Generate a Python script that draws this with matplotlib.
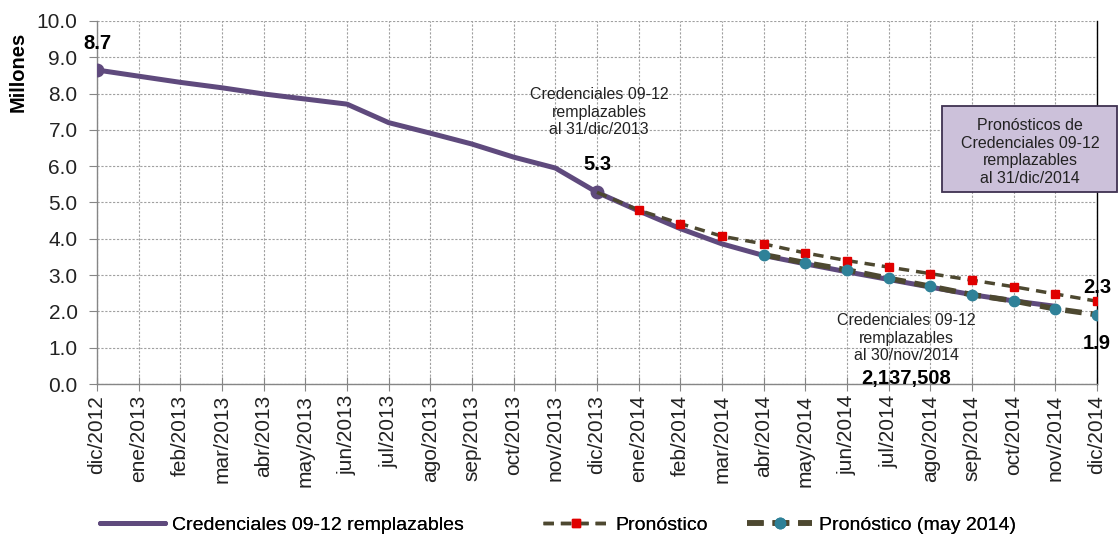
import matplotlib
matplotlib.use("Agg")
import matplotlib.pyplot as plt
from matplotlib.lines import Line2D
from matplotlib.patches import Rectangle

plt.rcParams["font.family"] = ["Liberation Sans", "DejaVu Sans"]

# month labels, dic/2012 .. dic/2014
months = ["dic/2012", "ene/2013", "feb/2013", "mar/2013", "abr/2013", "may/2013",
          "jun/2013", "jul/2013", "ago/2013", "sep/2013", "oct/2013", "nov/2013",
          "dic/2013", "ene/2014", "feb/2014", "mar/2014", "abr/2014", "may/2014",
          "jun/2014", "jul/2014", "ago/2014", "sep/2014", "oct/2014", "nov/2014",
          "dic/2014"]

# actual replaceable credentials (millions), dic/2012 .. nov/2014
actual = [8.65, 8.48, 8.31, 8.16, 7.99, 7.85, 7.71, 7.20, 6.91, 6.61, 6.25, 5.95,
          5.28, 4.77, 4.28, 3.86, 3.54, 3.31, 3.09, 2.88, 2.67, 2.46, 2.29, 2.14]

# forecast, dic/2013 .. dic/2014
forecast = [5.28, 4.79, 4.42, 4.07, 3.86, 3.61, 3.40, 3.22, 3.04, 2.86, 2.68, 2.48, 2.28]

# forecast (may 2014), abr/2014 .. dic/2014
forecast_may = [3.56, 3.34, 3.14, 2.91, 2.69, 2.46, 2.29, 2.07, 1.91]

PURPLE = "#5f4a7d"
OLIVE = "#4d4830"
RED = "#e00000"
TEAL = "#2f8198"
GRID = "#a0a0a0"
W, H = 1118, 537

fig = plt.figure(figsize=(W / 100, H / 100), dpi=100)
ax = fig.add_axes([97 / W, 1 - 384 / H, 1000 / W, (384 - 21) / H])

x_act = list(range(len(actual)))
x_fc = list(range(12, 12 + len(forecast)))
x_may = list(range(16, 16 + len(forecast_may)))

ax.plot(x_act, actual, color=PURPLE, lw=3.6, marker="o", ms=9,
        markevery=[0, 12], solid_capstyle="round", zorder=3)
ax.plot(x_fc, forecast, color=OLIVE, lw=2.5, dashes=(3, 2), marker="s", ms=6,
        mfc=RED, mec=RED, markevery=list(range(1, len(forecast))), zorder=4)
ax.plot(x_may, forecast_may, color=OLIVE, lw=4.0, dashes=(3, 1.6), marker="o", ms=7.5,
        mfc=TEAL, mec=TEAL, zorder=5)

ax.set_xlim(0, 24)
ax.set_ylim(0, 10)
ax.set_xticks(range(len(months)))
ax.set_xticklabels(months, rotation=90, fontsize=15, color="#222222")
ax.set_yticks(range(11))
ax.set_yticklabels([f"{i:.1f}" for i in range(11)], fontsize=15, color="#222222")

ax.grid(True, color=GRID, linestyle=(0, (2, 1.5)), lw=0.8)
ax.set_axisbelow(True)
ax.tick_params(axis="x", direction="inout", length=10, color="#868686", pad=3)
ax.tick_params(axis="y", direction="out", length=6, color="#868686", pad=8)
for side in ["left", "bottom"]:
    ax.spines[side].set_color("#868686")
    ax.spines[side].set_linewidth(1.0)
ax.spines["top"].set_visible(False)
ax.spines["right"].set_color("black")
ax.spines["right"].set_linewidth(1.0)

fig.text(18 / W, 1 - 72 / H, "Millones", rotation=90, fontsize=14.5,
         fontweight="bold", ha="center", va="center")

# annotations
ax.text(0, 9.37, "8.7", fontsize=14.5, fontweight="bold", ha="center", va="center")
ax.text(12.05, 7.49, "Credenciales 09-12\nremplazables\nal 31/dic/2013", fontsize=11.5,
        ha="center", va="center", linespacing=1.22, color="#222222")
ax.text(12, 6.06, "5.3", fontsize=14.5, fontweight="bold", ha="center", va="center")
ax.text(24, 2.66, "2.3", fontsize=14.5, fontweight="bold", ha="center", va="center")
ax.text(24, 1.12, "1.9", fontsize=14.5, fontweight="bold", ha="center", va="center")
ax.text(19.42, 1.26, "Credenciales 09-12\nremplazables\nal 30/nov/2014", fontsize=11.5,
        ha="center", va="center", linespacing=1.22, color="#222222")
ax.text(19.42, 0.16, "2,137,508", fontsize=14.5, fontweight="bold", ha="center", va="center")

# forecast box
fig.patches.append(Rectangle((942 / W, 1 - 192 / H), 175 / W, 86 / H,
                             transform=fig.transFigure, facecolor="#ccc1da",
                             edgecolor="#3f3151", lw=1.3, zorder=6))
fig.text(1030 / W, 1 - 152 / H,
         "Pronósticos de\nCredenciales 09-12\nremplazables\nal 31/dic/2014",
         fontsize=11.5, ha="center", va="center", linespacing=1.22, color="#222222", zorder=7)

# legend: three entries placed where the reference has them
handles = [
    Line2D([], [], color=PURPLE, lw=3.6, solid_capstyle="round"),
    Line2D([], [], color=OLIVE, lw=2.5, dashes=(3, 2), marker="s", ms=6, mfc=RED, mec=RED),
    Line2D([], [], color=OLIVE, lw=4.0, dashes=(3, 1.6), marker="o", ms=7.5, mfc=TEAL, mec=TEAL),
]
labels = ["Credenciales 09-12 remplazables", "Pronóstico", "Pronóstico (may 2014)"]
starts = [100, 543, 747]
for h, lab, x0 in zip(handles, labels, starts):
    leg = fig.legend([h], [lab], loc="center left", bbox_to_anchor=(x0 / W, 1 - 525 / H),
                     frameon=False, fontsize=14, handlelength=3.35, handletextpad=0.35,
                     borderpad=0, borderaxespad=0, numpoints=1)
    fig.add_artist(leg)

fig.savefig("out.png", dpi=100)
